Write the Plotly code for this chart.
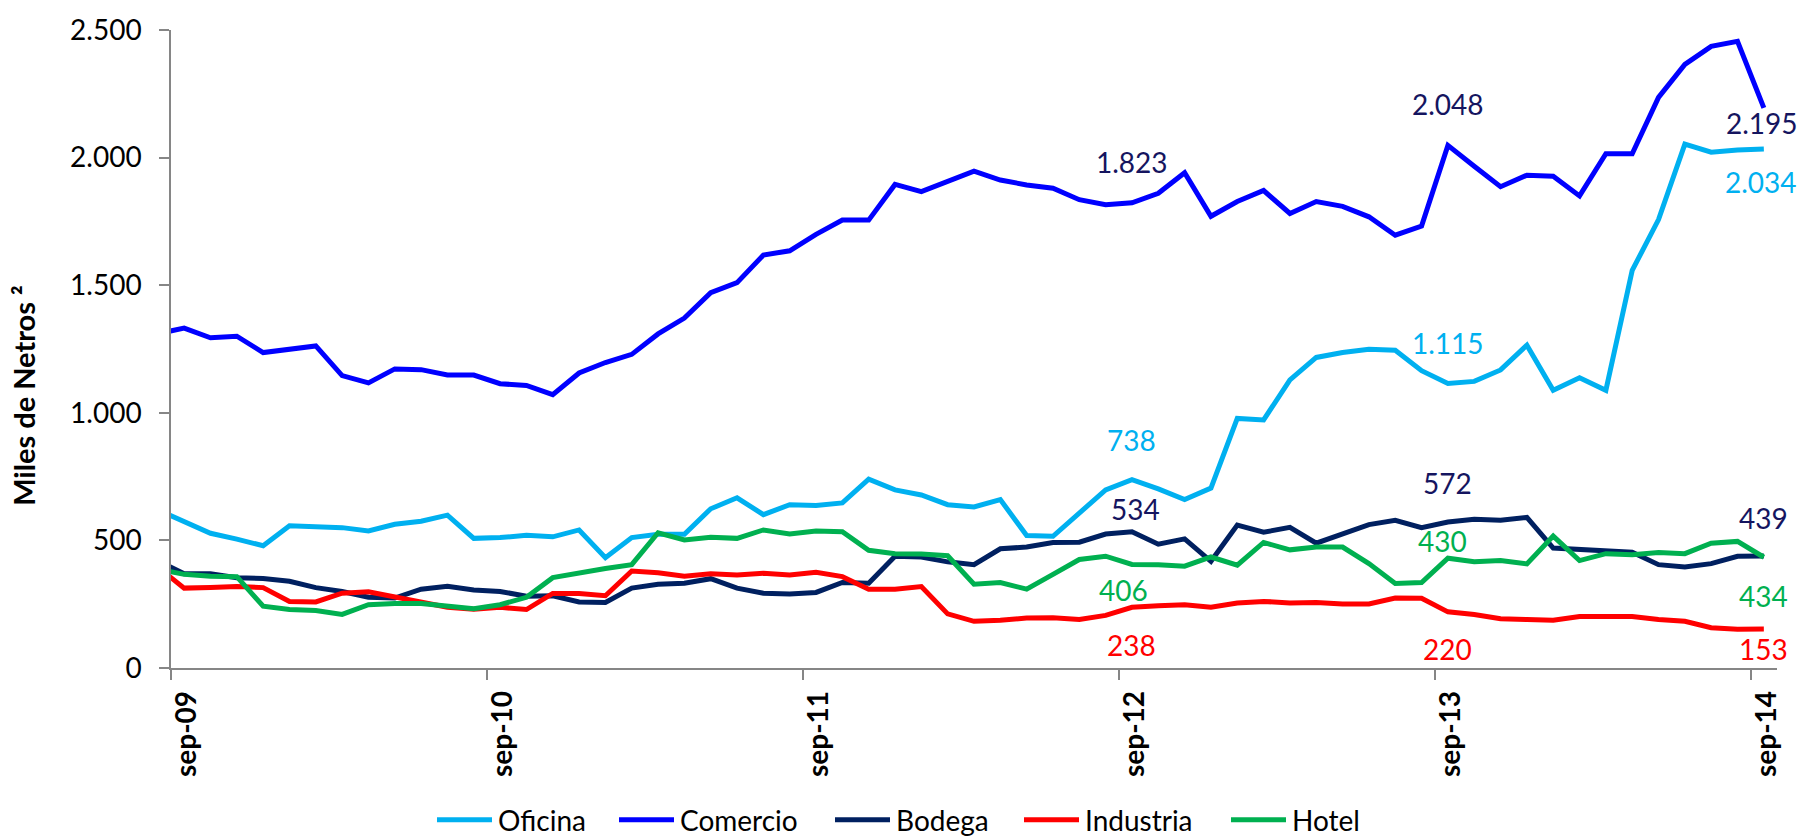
import plotly.graph_objects as go

# ---------------- data ----------------
month_abbr = ["ene", "feb", "mar", "abr", "may", "jun", "jul", "ago", "sep", "oct", "nov", "dic"]
# months from ago-09 to sep-14
months = []
for yr in range(2009, 2015):
    for m in range(12):
        if (yr == 2009 and m < 7) or (yr == 2014 and m > 8):
            continue
        months.append(f"{month_abbr[m]}-{str(yr)[2:]}")

oficina = [620, 575, 528, 505, 479, 557, 555, 550, 537, 563, 575, 599, 508, 511, 520, 514, 541, 432,
           511, 524, 524, 624, 667, 601, 640, 637, 647, 740, 698, 678, 640, 631, 660, 519, 516, 608,
           698, 738, 702, 660, 705, 978, 972, 1129, 1217, 1236, 1249, 1245, 1165, 1115, 1123, 1168,
           1265, 1088, 1137, 1088, 1558, 1757, 2053, 2021, 2030, 2034]
comercio = [1310, 1332, 1294, 1300, 1236, 1249, 1262, 1146, 1117, 1172, 1169, 1148, 1148, 1114, 1107,
            1071, 1156, 1197, 1229, 1309, 1371, 1471, 1510, 1618, 1635, 1699, 1755, 1755, 1895, 1867,
            1905, 1947, 1912, 1893, 1880, 1835, 1815, 1823, 1860, 1941, 1770, 1828, 1871, 1781, 1828,
            1809, 1768, 1696, 1732, 2048, 1966, 1886, 1931, 1927, 1850, 2015, 2015, 2236, 2365, 2436,
            2456, 2195]
bodega = [420, 369, 369, 354, 351, 340, 315, 300, 277, 274, 309, 320, 306, 300, 281, 283, 259, 257,
          313, 328, 332, 350, 313, 293, 290, 296, 335, 332, 438, 435, 416, 405, 467, 474, 492, 493,
          525, 534, 485, 506, 418, 560, 532, 551, 489, 528, 562, 579, 550, 572, 583, 579, 590, 470,
          466, 461, 454, 405, 396, 409, 438, 439]
industria = [395, 313, 315, 319, 315, 261, 259, 293, 299, 277, 260, 238, 230, 238, 229, 292, 292, 283,
             380, 373, 360, 369, 364, 371, 364, 375, 358, 309, 309, 319, 212, 183, 187, 196, 197, 190,
             206, 238, 244, 248, 238, 255, 261, 255, 257, 251, 251, 274, 273, 220, 210, 193, 190, 187,
             202, 203, 202, 190, 183, 158, 152, 153]
hotel = [387, 367, 360, 358, 242, 229, 225, 210, 248, 253, 253, 242, 232, 248, 277, 354, 373, 390,
         405, 530, 502, 512, 508, 541, 525, 537, 534, 461, 448, 447, 440, 328, 335, 309, 367, 425,
         438, 406, 405, 399, 435, 403, 492, 463, 474, 474, 409, 331, 335, 430, 416, 421, 408, 517,
         421, 448, 444, 453, 448, 489, 496, 434]

series_names = ["Oficina", "Comercio", "Bodega", "Industria", "Hotel"]
tick_labels = ["sep-09", "sep-10", "sep-11", "sep-12", "sep-13", "sep-14"]
labelled_months = ["sep-12", "sep-13", "sep-14"]

# ---------------- styling ----------------
colors = {"Oficina": "#00B0F0", "Comercio": "#0000FF", "Bodega": "#002060",
          "Industria": "#FF0000", "Hotel": "#00B050"}
label_colors = {"Oficina": "#00B0F0", "Comercio": "#15155F", "Bodega": "#15155F",
                "Industria": "#FF0000", "Hotel": "#00B050"}
values = {"Oficina": oficina, "Comercio": comercio, "Bodega": bodega,
          "Industria": industria, "Hotel": hotel}
# label offsets (xshift, yshift) in pixels per series and labelled month
label_offsets = {
    "Comercio": [(0, 41), (0, 41), (-2, -15)],
    "Oficina": [(0, 40), (0, 40), (-3, -33)],
    "Bodega": [(4, 23), (0, 39), (0, 38)],
    "Hotel": [(-8, -26), (-5, 17), (0, -39)],
    "Industria": [(0, -38), (0, -37), (0, -20)],
}

FONT = "Lato"
AXIS_GREY = "#868686"
W, H = 1814, 839
ML, MR, MT, MB = 171, 37, 21, 171
PW, PH = W - ML - MR, H - MT - MB

def px_to_paper_x(px):
    return (px - ML) / PW

def px_to_paper_y(py):
    return (H - MB - py) / PH

# manual legend layout (pixel positions on the page)
legend_line_x0 = [437, 619, 835, 1024, 1231]
legend_line_len = 55
legend_text_gap = 4
legend_y = 822

# x position: month centre (sep-09 occupies [0,1])
start_idx = months.index("sep-09")
xpos = [i - start_idx + 0.5 for i in range(len(months))]

fig = go.Figure()
for name in series_names:
    fig.add_trace(go.Scatter(
        x=xpos, y=values[name], mode="lines", name=name,
        line=dict(color=colors[name], width=5),
        hoverinfo="skip", showlegend=False,
    ))

def fmt(v):
    return f"{v:,}".replace(",", ".")

annotations = []
for name in series_names:
    for j, mlabel in enumerate(labelled_months):
        idx = months.index(mlabel)
        xs, ys = label_offsets[name][j]
        annotations.append(dict(
            x=xpos[idx], y=values[name][idx], xref="x", yref="y",
            text=fmt(values[name][idx]), showarrow=False,
            xshift=xs, yshift=ys,
            font=dict(family=FONT, size=28, color=label_colors[name]),
        ))

annotations.append(dict(
    x=px_to_paper_x(24), y=px_to_paper_y(392), xref="paper", yref="paper",
    text="Miles de Netros ²", showarrow=False, textangle=-90,
    xanchor="center", yanchor="middle",
    font=dict(family=FONT, size=29, color="black", weight="bold"),
))

shapes = []
for name, x0 in zip(series_names, legend_line_x0):
    shapes.append(dict(
        type="line", xref="paper", yref="paper",
        x0=px_to_paper_x(x0), x1=px_to_paper_x(x0 + legend_line_len),
        y0=px_to_paper_y(legend_y), y1=px_to_paper_y(legend_y),
        line=dict(color=colors[name], width=5),
    ))
    annotations.append(dict(
        x=px_to_paper_x(x0 + legend_line_len + legend_text_gap), y=px_to_paper_y(legend_y),
        xref="paper", yref="paper", text=name, showarrow=False,
        xanchor="left", yanchor="middle",
        font=dict(family=FONT, size=28, color="black"),
    ))

tickvals = [months.index(t) - start_idx for t in tick_labels]

fig.update_layout(
    width=W, height=H,
    margin=dict(l=ML, r=MR, t=MT, b=MB),
    paper_bgcolor="white", plot_bgcolor="white",
    separators=",.",
    showlegend=False,
    annotations=annotations,
    shapes=shapes,
    xaxis=dict(range=[0, 61], tickvals=tickvals, ticktext=tick_labels,
               tickangle=-90, ticks="outside", ticklen=10, tickwidth=1.5,
               tickcolor=AXIS_GREY, showline=True, linecolor=AXIS_GREY, linewidth=1.5,
               showgrid=False, zeroline=False, ticklabelshift=16,
               tickfont=dict(family=FONT, size=28, color="black", weight="bold")),
    yaxis=dict(range=[0, 2500], dtick=500, tick0=0, tickformat=",d",
               ticks="outside", ticklen=10, tickwidth=1.5, tickcolor=AXIS_GREY,
               showline=True, linecolor=AXIS_GREY, linewidth=1.5,
               showgrid=False, zeroline=False, ticklabelstandoff=12,
               tickfont=dict(family=FONT, size=28, color="black")),
)

fig.write_html("out.html", config={"displayModeBar": False},
               post_script="document.body.style.margin='0';")
